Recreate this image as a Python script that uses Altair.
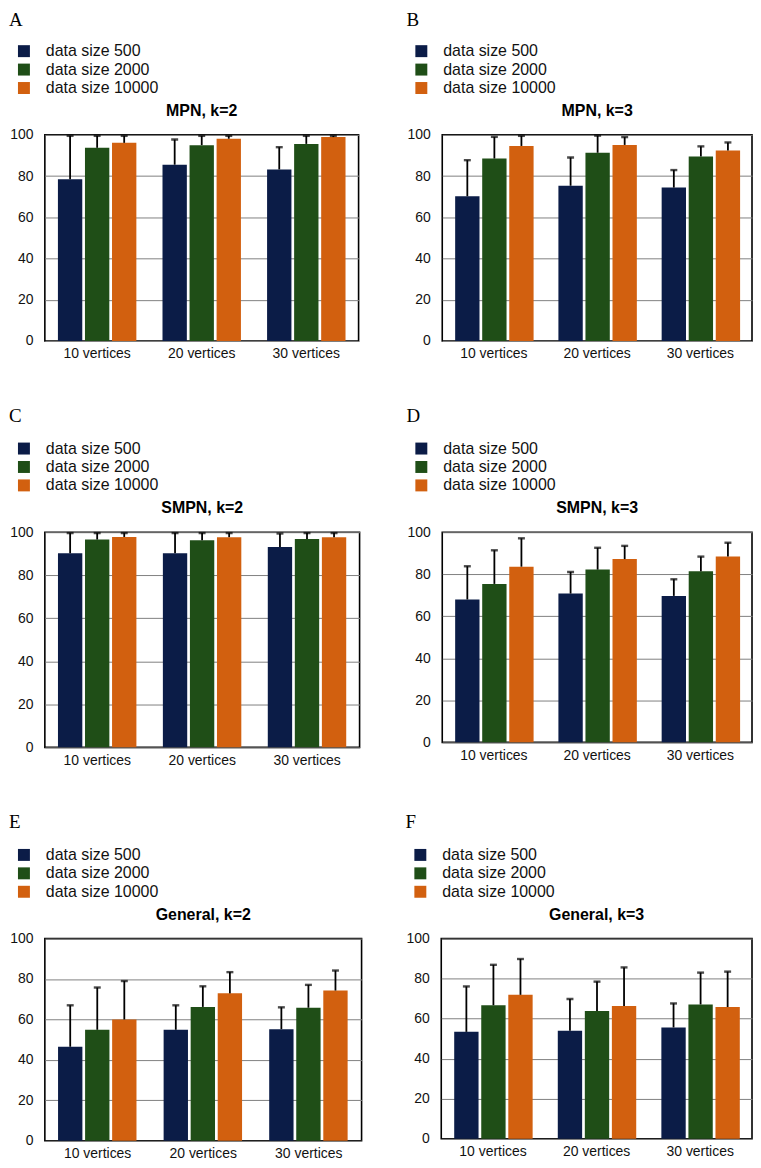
import altair as alt
import pandas as pd

vertices = ["10 vertices", "20 vertices", "30 vertices"]
sizes = ["data size 500", "data size 2000", "data size 10000"]
colors = ["#0b1c47", "#1f4e17", "#d2600f"]

letters = ["A", "B", "C", "D", "E", "F"]
titles = ["MPN, k=2", "MPN, k=3", "SMPN, k=2", "SMPN, k=3", "General, k=2", "General, k=3"]

# bar heights (mean accuracy), ordered 10v(500,2000,10000), 20v(...), 30v(...)
mpn2_mean = [78.5, 93.7, 96.1, 85.5, 95.0, 98.1, 83.2, 95.6, 98.9]
mpn2_upper = [99.5, 99.5, 99.5, 97.7, 99.5, 99.5, 94.0, 99.5, 99.5]
mpn3_mean = [70.2, 88.5, 94.6, 75.3, 91.3, 95.1, 74.4, 89.5, 92.4]
mpn3_upper = [87.7, 99.0, 99.5, 89.0, 99.6, 98.9, 82.9, 94.4, 96.3]
smpn2_mean = [90.2, 96.6, 97.8, 90.2, 96.3, 97.7, 93.1, 96.8, 97.7]
smpn2_upper = [99.6, 99.6, 99.6, 99.6, 99.6, 99.6, 99.4, 99.6, 99.6]
smpn3_mean = [68.0, 75.4, 83.6, 70.8, 82.2, 87.2, 69.7, 81.4, 88.4]
smpn3_upper = [83.8, 91.4, 97.1, 81.1, 92.6, 93.5, 77.6, 88.4, 95.0]
gen2_mean = [46.5, 54.9, 60.0, 54.9, 66.2, 72.9, 55.2, 65.8, 74.3]
gen2_upper = [67.0, 75.8, 79.0, 67.0, 76.4, 83.4, 66.0, 77.1, 84.2]
gen3_mean = [53.4, 66.7, 71.9, 53.9, 63.8, 66.3, 55.6, 67.1, 65.8]
gen3_upper = [76.1, 86.9, 89.8, 69.8, 78.5, 85.6, 67.6, 83.0, 83.5]

means = [mpn2_mean, mpn3_mean, smpn2_mean, smpn3_mean, gen2_mean, gen3_mean]
uppers = [mpn2_upper, mpn3_upper, smpn2_upper, smpn3_upper, gen2_upper, gen3_upper]

widths = [315, 311, 316, 311, 318, 312]
heights = [207, 207, 216, 211, 203, 201]
letter_y = [-124, -124, -126, -126, -126, -126]
row_spacing = [46, 45, 42]

SANS = "Liberation Sans"


def panel(i):
    df = pd.DataFrame({
        "vertices": [v for v in vertices for s in sizes],
        "size": [s for v in vertices for s in sizes],
        "mean": means[i],
        "upper": uppers[i],
    })
    w, h = widths[i], heights[i]
    base = alt.Chart(df).encode(
        x=alt.X("vertices:N", sort=vertices,
                scale=alt.Scale(paddingInner=0.25, paddingOuter=0.125),
                axis=alt.Axis(title=None, labelAngle=0, ticks=False, domain=False,
                              labelPadding=6, labelFontSize=14, labelFont=SANS,
                              labelColor="#111111", grid=False)),
        xOffset=alt.XOffset("size:N", sort=sizes, scale=alt.Scale(paddingInner=0.1)),
    )
    yscale = alt.Scale(domain=[0, 100], nice=False)
    bars = base.mark_bar().encode(
        y=alt.Y("mean:Q", scale=yscale,
                axis=alt.Axis(title=None, values=[0, 20, 40, 60, 80, 100], ticks=False,
                              domain=False, grid=True, gridColor="#808080", gridWidth=1,
                              labelPadding=12, labelFontSize=14, labelFont=SANS,
                              labelColor="#111111", labelOverlap=False)),
        color=alt.Color("size:N", sort=sizes,
                        scale=alt.Scale(domain=sizes, range=colors),
                        legend=alt.Legend(title=None, orient="none", legendX=-29, legendY=-92,
                                          symbolType="square", symbolSize=144,
                                          symbolStrokeWidth=0, labelFontSize=16,
                                          labelFont=SANS, labelColor="#111111",
                                          labelOffset=14, rowPadding=2.5, padding=0)),
    )
    rules = base.mark_rule(color="black", strokeWidth=1.8).encode(
        y=alt.Y("mean:Q", scale=yscale), y2="upper:Q")
    caps = base.mark_tick(color="black", thickness=2.4, size=7).encode(
        y=alt.Y("upper:Q", scale=yscale))
    letter = alt.Chart(pd.DataFrame({"t": [letters[i]]})).mark_text(
        font="Liberation Serif", fontSize=19, align="left", baseline="top", color="black"
    ).encode(x=alt.value(-36), y=alt.value(letter_y[i]), text="t:N")
    title = alt.Chart(pd.DataFrame({"t": [titles[i]]})).mark_text(
        font=SANS, fontSize=16, fontWeight="bold", align="center", baseline="middle",
        color="black"
    ).encode(x=alt.value(w / 2), y=alt.value(-24), text="t:N")
    return alt.layer(bars, rules, caps, letter, title).properties(width=w, height=h)


rows = []
for r in range(3):
    rows.append(
        alt.hconcat(panel(2 * r), panel(2 * r + 1), spacing=row_spacing[r])
        .resolve_scale(color="independent")
        .resolve_legend(color="independent")
    )

chart = (
    alt.vconcat(*rows, spacing=44)
    .resolve_scale(color="independent")
    .resolve_legend(color="independent")
    .properties(padding=0, background="white")
    .configure_view(stroke="black", strokeWidth=1.6)
)

chart.save("out.html", embed_options={"renderer": "svg", "actions": False})
